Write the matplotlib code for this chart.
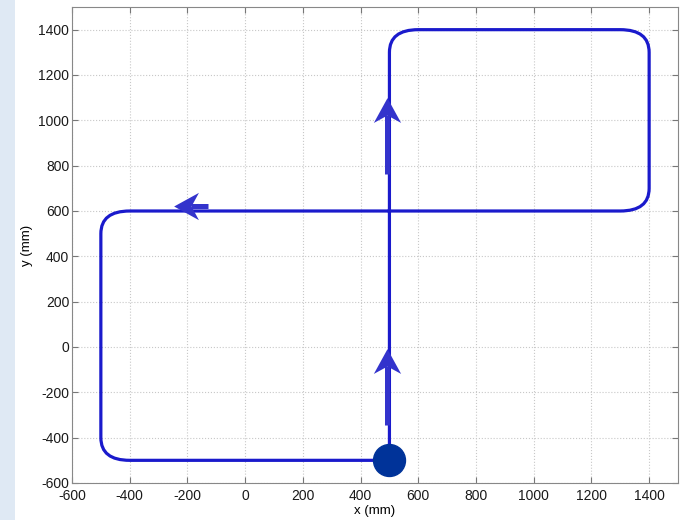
import matplotlib
matplotlib.use("Agg")
import matplotlib.pyplot as plt
from matplotlib.path import Path
from matplotlib.patches import PathPatch, Rectangle

plt.rcParams['font.family'] = ['Liberation Sans', 'DejaVu Sans']
plt.rcParams['axes.unicode_minus'] = False

# robot trajectory: straight segments joined by rounded corners
start = (500, -500)
end = (500, -500)
# curve entry point, corner (control point), curve exit point
in_x = [500, 1300, 1400, -400, -500]
in_y = [1300, 1400, 700, 600, -400]
corner_x = [500, 1400, 1400, -500, -500]
corner_y = [1400, 1400, 600, 600, -500]
out_x = [600, 1400, 1300, -500, -400]
out_y = [1400, 1300, 600, 500, -500]

# direction arrows: shaft tail, shaft end (where the head sits), heading
arrow_tail_x = [490, 490, -130]
arrow_tail_y = [-345, 765, 622]
arrow_head_x = [490, 490, -186]
arrow_head_y = [-85, 1025, 622]
arrow_dir = ['up', 'up', 'left']

line_col = '#1a1acc'
arrow_col = '#3333cc'
dot_col = '#003399'

# barbed arrow head, marker origin at the notch where the shaft joins
head_up = Path([(0, 0.7), (0.55, -0.3), (0, 0), (-0.55, -0.3), (0, 0.7)],
               [Path.MOVETO, Path.LINETO, Path.LINETO, Path.LINETO, Path.CLOSEPOLY])
head_left = Path([(-0.7, 0), (0.3, 0.55), (0, 0), (0.3, -0.55), (-0.7, 0)],
                 [Path.MOVETO, Path.LINETO, Path.LINETO, Path.LINETO, Path.CLOSEPOLY])
heads = {'up': head_up, 'left': head_left}

fig = plt.figure(figsize=(6.85, 5.2), dpi=100)
fig.patches.append(Rectangle((0, 0), 15 / 685, 1, transform=fig.transFigure,
                             facecolor='#dfe9f4', edgecolor='none', zorder=-1))
ax = fig.add_axes([72 / 685, 37 / 520, 606 / 685, 476 / 520])

# build path: line to curve entry, quadratic curve through the corner
verts = [start]
codes = [Path.MOVETO]
for k in range(len(corner_x)):
    verts += [(in_x[k], in_y[k]), (corner_x[k], corner_y[k]), (out_x[k], out_y[k])]
    codes += [Path.LINETO, Path.CURVE3, Path.CURVE3]
verts.append(end)
codes.append(Path.LINETO)
ax.add_patch(PathPatch(Path(verts, codes), facecolor='none', edgecolor=line_col,
                       lw=2.3, zorder=3))

for x0, y0, x1, y1, d in zip(arrow_tail_x, arrow_tail_y, arrow_head_x, arrow_head_y, arrow_dir):
    ax.plot([x0, x1], [y0, y1], color=arrow_col, lw=3.6, solid_capstyle='butt', zorder=4)
    ax.plot([x1], [y1], marker=heads[d], ms=25, color=arrow_col, mew=0, zorder=4)

ax.plot([start[0]], [start[1]], 'o', color=dot_col, ms=23, zorder=5)

ax.set_xlim(-600, 1500)
ax.set_ylim(-600, 1500)
ax.set_xticks(range(-600, 1401, 200))
ax.set_yticks(range(-600, 1401, 200))
ax.grid(True, color='#c8c8c8', linestyle=':', lw=0.8)
ax.tick_params(direction='in', top=True, right=True, length=4, color='#777777',
               labelsize=10, labelcolor='#1a1a1a')
ax.tick_params(axis='x', pad=4)
ax.tick_params(axis='y', pad=2)
for s in ax.spines.values():
    s.set_color('#888888')
ax.set_xlabel('x (mm)', fontsize=9.5, labelpad=2)
ax.set_ylabel('y (mm)', fontsize=9.5, labelpad=4)

fig.savefig('out.png', dpi=100)
